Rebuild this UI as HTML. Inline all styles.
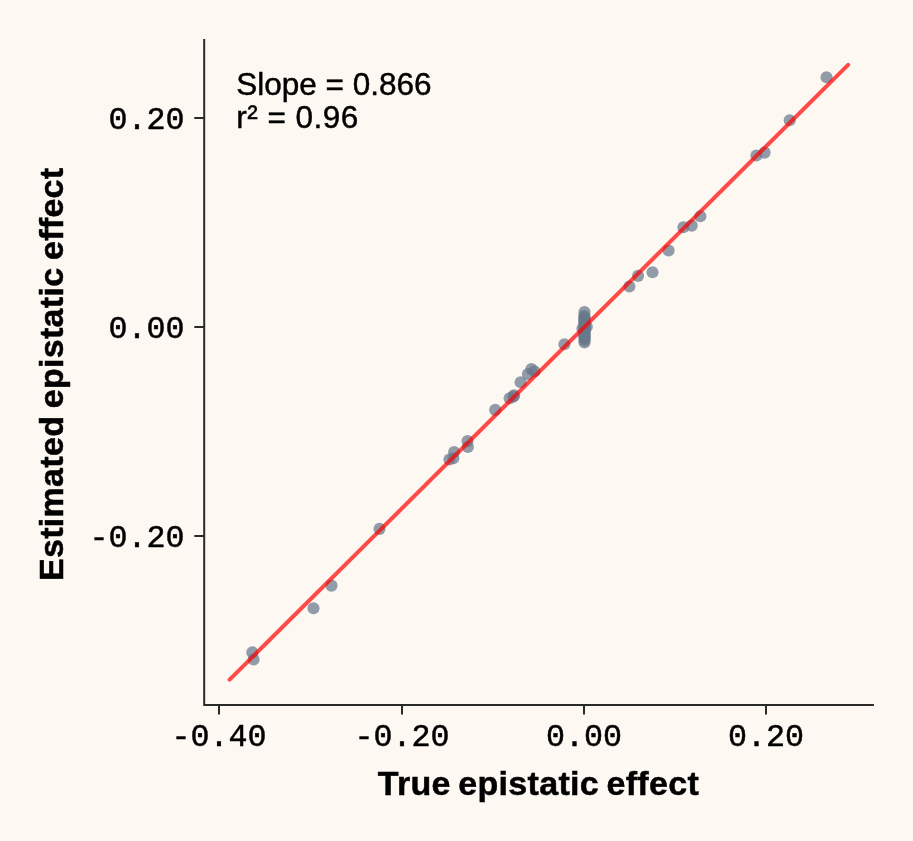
<!DOCTYPE html>
<html lang="en">
<head>
<meta charset="utf-8">
<title>True vs estimated epistatic effect</title>
<style>
html,body{margin:0;padding:0;background:#FDF8F2;}
body{width:913px;height:841px;overflow:hidden;}
svg{display:block;}
.tick{font-family:"Liberation Mono","DejaVu Sans Mono",monospace;font-size:31.7px;fill:#000;stroke:#000;stroke-width:0.5px;}
.lab{font-family:"Liberation Sans",sans-serif;font-weight:bold;font-size:34px;fill:#000;stroke:#000;stroke-width:0.5px;letter-spacing:0.3px;word-spacing:-2.2px;}
.ann{font-family:"Liberation Sans",sans-serif;font-size:31.5px;fill:#000;stroke:#000;stroke-width:0.45px;}
</style>
</head>
<body>
<svg width="913" height="841" viewBox="0 0 913 841">
<rect x="0" y="0" width="913" height="841" fill="#FDF8F2"/>
<g fill="#68788A" fill-opacity="0.72">
<circle cx="826.5" cy="77.3" r="6.05"/>
<circle cx="789.7" cy="120.2" r="6.05"/>
<circle cx="764.6" cy="152.6" r="6.05"/>
<circle cx="756.4" cy="155.5" r="6.05"/>
<circle cx="700.4" cy="216.3" r="6.05"/>
<circle cx="691.7" cy="225.6" r="6.05"/>
<circle cx="683.4" cy="227.2" r="6.05"/>
<circle cx="668.6" cy="250.5" r="6.05"/>
<circle cx="652.5" cy="272.3" r="6.05"/>
<circle cx="638.1" cy="275.9" r="6.05"/>
<circle cx="629.4" cy="286.5" r="6.05"/>
<circle cx="564.4" cy="344.3" r="6.05"/>
<circle cx="531.4" cy="369.0" r="6.05"/>
<circle cx="534.5" cy="371.2" r="6.05"/>
<circle cx="527.9" cy="374.1" r="6.05"/>
<circle cx="520.6" cy="382.3" r="6.05"/>
<circle cx="514.1" cy="395.4" r="6.05"/>
<circle cx="513.3" cy="396.6" r="6.05"/>
<circle cx="509.6" cy="398.3" r="6.05"/>
<circle cx="495.2" cy="409.9" r="6.05"/>
<circle cx="467.5" cy="441.1" r="6.05"/>
<circle cx="467.9" cy="446.9" r="6.05"/>
<circle cx="454.1" cy="452.0" r="6.05"/>
<circle cx="453.3" cy="458.3" r="6.05"/>
<circle cx="449.4" cy="459.5" r="6.05"/>
<circle cx="379.5" cy="528.9" r="6.05"/>
<circle cx="331.5" cy="585.6" r="6.05"/>
<circle cx="313.5" cy="608.3" r="6.05"/>
<circle cx="252.3" cy="652.4" r="6.05"/>
<circle cx="253.6" cy="659.5" r="6.05"/>
<circle cx="584.5" cy="312.0" r="6.05"/>
<circle cx="584.15" cy="316.0" r="6.05"/>
<circle cx="584.85" cy="317.5" r="6.05"/>
<circle cx="584.15" cy="319.0" r="6.05"/>
<circle cx="584.85" cy="320.5" r="6.05"/>
<circle cx="584.15" cy="322.0" r="6.05"/>
<circle cx="584.85" cy="323.5" r="6.05"/>
<circle cx="584.15" cy="325.0" r="6.05"/>
<circle cx="584.85" cy="326.5" r="6.05"/>
<circle cx="584.15" cy="328.0" r="6.05"/>
<circle cx="584.85" cy="329.5" r="6.05"/>
<circle cx="584.15" cy="331.0" r="6.05"/>
<circle cx="584.85" cy="332.5" r="6.05"/>
<circle cx="584.15" cy="334.0" r="6.05"/>
<circle cx="584.85" cy="335.5" r="6.05"/>
<circle cx="584.15" cy="337.0" r="6.05"/>
<circle cx="584.85" cy="338.5" r="6.05"/>
<circle cx="584.5" cy="340.4" r="6.05"/>
<circle cx="584.5" cy="342.5" r="6.05"/>
<circle cx="582.4" cy="328.7" r="6.05"/>
<circle cx="586.8" cy="326.9" r="6.05"/>
</g>
<line x1="229.6" y1="679.7" x2="848.1" y2="64.8" stroke="#ff0000" stroke-opacity="0.7" stroke-width="4" stroke-linecap="round"/>
<g stroke="#2a2a2a" stroke-width="2" fill="none" stroke-linecap="butt">
<path d="M204.2 38.9 V705 H873.9"/>
<path d="M219 705 V714.6 M402 705 V714.6 M584 705 V714.6 M766 705 V714.6"/>
<path d="M204.2 118 H194.3 M204.2 327 H194.3 M204.2 536 H194.3"/>
</g>
<g class="tick" text-anchor="middle">
<text x="219" y="745.7">-0.40</text>
<text x="402" y="745.7">-0.20</text>
<text x="584" y="745.7">0.00</text>
<text x="766" y="745.7">0.20</text>
</g>
<g class="tick" text-anchor="end">
<text x="184.5" y="128.7">0.20</text>
<text x="184.5" y="337.7">0.00</text>
<text x="184.5" y="546.7">-0.20</text>
</g>
<text class="lab" x="377.8" y="795">True epistatic effect</text>
<text class="lab" transform="translate(63.1 581) rotate(-90)">Estimated epistatic effect</text>
<text class="ann" x="236.2" y="95.4">Slope = 0.866</text>
<text class="ann" x="236.2" y="127.5" letter-spacing="0.5">r² = 0.96</text>
</svg>
</body>
</html>
